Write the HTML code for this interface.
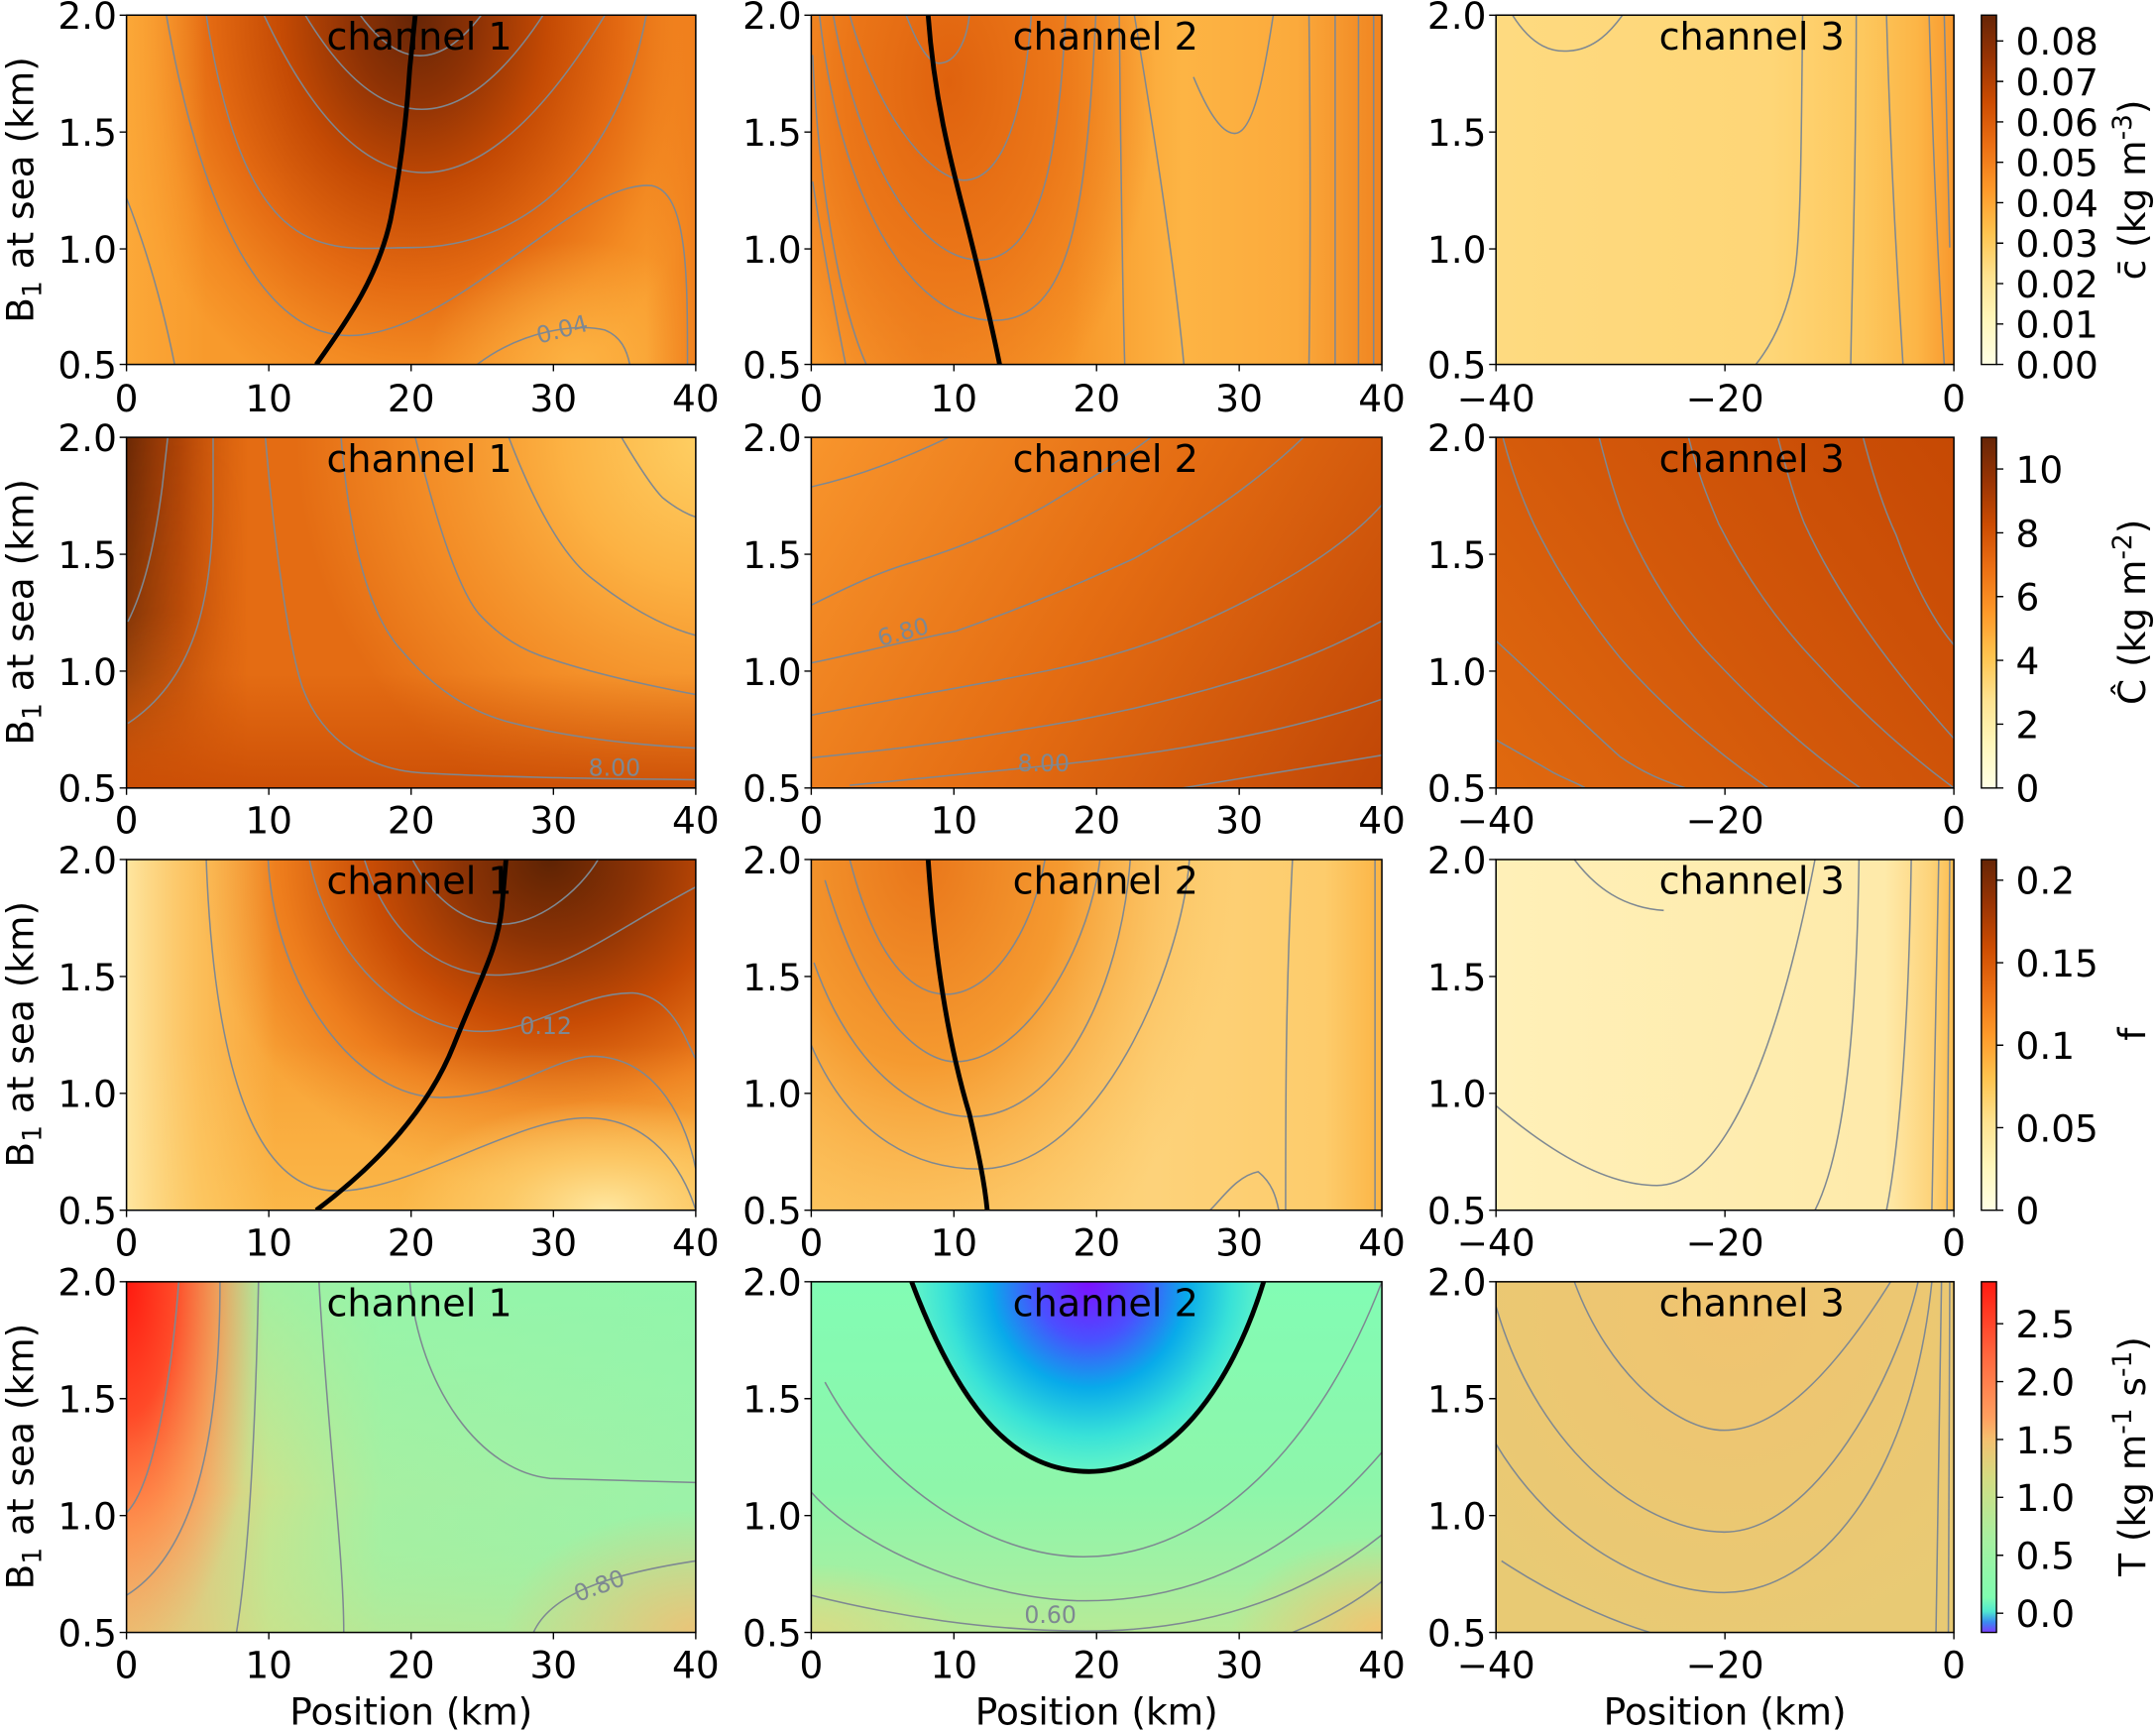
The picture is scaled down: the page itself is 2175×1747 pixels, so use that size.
<!DOCTYPE html>
<html><head><meta charset="utf-8"><style>html,body{margin:0;padding:0;background:#fff}svg{display:block}</style></head>
<body>
<svg xmlns="http://www.w3.org/2000/svg" width="2175" height="1747" viewBox="0 0 1568 1259.4" preserveAspectRatio="none" font-family="'DejaVu Sans','Liberation Sans',sans-serif">
<defs>
<clipPath id="c11"><rect x="92" y="11" width="414" height="254"/></clipPath>
<clipPath id="c12"><rect x="590" y="11" width="415" height="254"/></clipPath>
<clipPath id="c13"><rect x="1088" y="11" width="333" height="254"/></clipPath>
<clipPath id="c21"><rect x="92" y="318" width="414" height="255"/></clipPath>
<clipPath id="c22"><rect x="590" y="318" width="415" height="255"/></clipPath>
<clipPath id="c23"><rect x="1088" y="318" width="333" height="255"/></clipPath>
<clipPath id="c31"><rect x="92" y="625" width="414" height="255"/></clipPath>
<clipPath id="c32"><rect x="590" y="625" width="415" height="255"/></clipPath>
<clipPath id="c33"><rect x="1088" y="625" width="333" height="255"/></clipPath>
<clipPath id="c41"><rect x="92" y="932" width="414" height="255"/></clipPath>
<clipPath id="c42"><rect x="590" y="932" width="415" height="255"/></clipPath>
<clipPath id="c43"><rect x="1088" y="932" width="333" height="255"/></clipPath>

<linearGradient id="ylorbr" x1="0" y1="1" x2="0" y2="0">
<stop offset="0" stop-color="#ffffe5"/><stop offset=".125" stop-color="#fff7bc"/><stop offset=".25" stop-color="#fee391"/><stop offset=".375" stop-color="#fec44f"/><stop offset=".5" stop-color="#fe9929"/><stop offset=".625" stop-color="#ec7014"/><stop offset=".75" stop-color="#cc4c02"/><stop offset=".875" stop-color="#993404"/><stop offset="1" stop-color="#662506"/>
</linearGradient>
<linearGradient id="rainbow" x1="0" y1="1" x2="0" y2="0">
<stop offset="0" stop-color="#7a3cff"/><stop offset=".03" stop-color="#3a8cf0"/><stop offset=".06" stop-color="#50e8d0"/><stop offset=".1" stop-color="#80fcb0"/><stop offset=".27" stop-color="#a8f0a0"/><stop offset=".44" stop-color="#d4dc82"/><stop offset=".55" stop-color="#f4c070"/><stop offset=".61" stop-color="#ffa060"/><stop offset=".78" stop-color="#ff6a40"/><stop offset="1" stop-color="#ff1a10"/>
</linearGradient>

<radialGradient id="g11a" gradientUnits="userSpaceOnUse" cx="0" cy="0" r="1" gradientTransform="translate(302,11) scale(230,300)">
<stop offset="0" stop-color="#662506"/><stop offset=".2" stop-color="#8e3205"/><stop offset=".42" stop-color="#c44a04"/><stop offset=".65" stop-color="#e46a12"/><stop offset=".85" stop-color="#f38a22"/><stop offset="1" stop-color="#f89a2c"/>
</radialGradient>
<radialGradient id="g11b" gradientUnits="userSpaceOnUse" cx="0" cy="0" r="1" gradientTransform="translate(420,265) scale(110,90)">
<stop offset="0" stop-color="#fdb545" stop-opacity=".9"/><stop offset="1" stop-color="#fdb545" stop-opacity="0"/>
</radialGradient>
<linearGradient id="g11c" gradientUnits="userSpaceOnUse" x1="92" y1="0" x2="150" y2="0">
<stop offset="0" stop-color="#fcaa3a" stop-opacity=".9"/><stop offset="1" stop-color="#fcaa3a" stop-opacity="0"/>
</linearGradient>
<linearGradient id="g11d" gradientUnits="userSpaceOnUse" x1="470" y1="0" x2="506" y2="0">
<stop offset="0" stop-color="#ee7a1a" stop-opacity="0"/><stop offset="1" stop-color="#ee7a1a" stop-opacity=".8"/>
</linearGradient>
<radialGradient id="g12a" gradientUnits="userSpaceOnUse" cx="0" cy="0" r="1" gradientTransform="translate(690,60) scale(150,260)">
<stop offset="0" stop-color="#df620e"/><stop offset=".5" stop-color="#eb7618"/><stop offset="1" stop-color="#eb7618" stop-opacity="0"/>
</radialGradient>
<linearGradient id="g12b" gradientUnits="userSpaceOnUse" x1="590" y1="0" x2="1005" y2="0">
<stop offset="0" stop-color="#fa9c30"/><stop offset=".2" stop-color="#f28a25"/><stop offset=".45" stop-color="#f79628"/><stop offset=".65" stop-color="#fdb444"/><stop offset=".85" stop-color="#fbaa3c"/><stop offset="1" stop-color="#f08420"/>
</linearGradient>
<linearGradient id="g13" gradientUnits="userSpaceOnUse" x1="1088" y1="0" x2="1421" y2="0">
<stop offset="0" stop-color="#feda80"/><stop offset=".6" stop-color="#fed677"/><stop offset=".8" stop-color="#fdc85e"/><stop offset=".92" stop-color="#fcb546"/><stop offset="1" stop-color="#f8982d"/>
</linearGradient>
<radialGradient id="g21a" gradientUnits="userSpaceOnUse" cx="0" cy="0" r="1" gradientTransform="translate(515,318) scale(300,300)">
<stop offset="0" stop-color="#fed064"/><stop offset=".35" stop-color="#fcb243"/><stop offset=".7" stop-color="#f6932a" stop-opacity=".8"/><stop offset="1" stop-color="#f6932a" stop-opacity="0"/>
</radialGradient>
<linearGradient id="g21b" gradientUnits="userSpaceOnUse" x1="92" y1="0" x2="180" y2="0">
<stop offset="0" stop-color="#6a2805"/><stop offset=".45" stop-color="#a23a04" stop-opacity=".8"/><stop offset="1" stop-color="#c44a04" stop-opacity="0"/>
</linearGradient>
<linearGradient id="g21bm" gradientUnits="userSpaceOnUse" x1="0" y1="318" x2="0" y2="573">
<stop offset="0" stop-color="#fff"/><stop offset=".5" stop-color="#fff" stop-opacity=".8"/><stop offset="1" stop-color="#fff" stop-opacity=".15"/>
</linearGradient>
<mask id="m21"><rect x="92" y="318" width="414" height="255" fill="url(#g21bm)"/></mask>
<linearGradient id="g21c" gradientUnits="userSpaceOnUse" x1="0" y1="490" x2="0" y2="573">
<stop offset="0" stop-color="#c94b04" stop-opacity="0"/><stop offset="1" stop-color="#c94b04" stop-opacity=".85"/>
</linearGradient>
<linearGradient id="g22" gradientUnits="userSpaceOnUse" x1="590" y1="318" x2="1005" y2="573">
<stop offset="0" stop-color="#f8952c"/><stop offset=".5" stop-color="#e46c12"/><stop offset="1" stop-color="#c04606"/>
</linearGradient>
<linearGradient id="g23" gradientUnits="userSpaceOnUse" x1="1088" y1="573" x2="1421" y2="318">
<stop offset="0" stop-color="#e0690f"/><stop offset=".5" stop-color="#d2570a"/><stop offset="1" stop-color="#c64904"/>
</linearGradient>
<radialGradient id="g31a" gradientUnits="userSpaceOnUse" cx="0" cy="0" r="1" gradientTransform="translate(400,625) scale(260,240)">
<stop offset="0" stop-color="#5e2304"/><stop offset=".25" stop-color="#8c3305"/><stop offset=".5" stop-color="#c84c05"/><stop offset=".75" stop-color="#ed7c1c"/><stop offset="1" stop-color="#f8a236"/>
</radialGradient>
<linearGradient id="g31b" gradientUnits="userSpaceOnUse" x1="92" y1="0" x2="200" y2="0">
<stop offset="0" stop-color="#fee6a0"/><stop offset=".5" stop-color="#fdd070" stop-opacity=".6"/><stop offset="1" stop-color="#fdd070" stop-opacity="0"/>
</linearGradient>
<radialGradient id="g31c" gradientUnits="userSpaceOnUse" cx="0" cy="0" r="1" gradientTransform="translate(440,880) scale(150,80)">
<stop offset="0" stop-color="#fee8a2"/><stop offset=".5" stop-color="#fdd070" stop-opacity=".7"/><stop offset="1" stop-color="#fdd070" stop-opacity="0"/>
</radialGradient>
<linearGradient id="g31d" gradientUnits="userSpaceOnUse" x1="0" y1="760" x2="0" y2="880">
<stop offset="0" stop-color="#fcc050" stop-opacity="0"/><stop offset="1" stop-color="#fcc050" stop-opacity=".7"/>
</linearGradient>
<radialGradient id="g32a" gradientUnits="userSpaceOnUse" cx="0" cy="0" r="1" gradientTransform="translate(670,625) scale(230,330)">
<stop offset="0" stop-color="#e9761a"/><stop offset=".45" stop-color="#f59a30"/><stop offset="1" stop-color="#fcc25a" stop-opacity="0"/>
</radialGradient>
<linearGradient id="g32b" gradientUnits="userSpaceOnUse" x1="590" y1="0" x2="1005" y2="0">
<stop offset="0" stop-color="#fdc864"/><stop offset=".6" stop-color="#fdd27a"/><stop offset=".9" stop-color="#fdcc6c"/><stop offset="1" stop-color="#fbb444"/>
</linearGradient>
<linearGradient id="g33" gradientUnits="userSpaceOnUse" x1="1088" y1="0" x2="1421" y2="0">
<stop offset="0" stop-color="#fff0b8"/><stop offset=".85" stop-color="#feeaaa"/><stop offset=".95" stop-color="#fdd37a"/><stop offset="1" stop-color="#fbbd50"/>
</linearGradient>
<linearGradient id="g41a" gradientUnits="userSpaceOnUse" x1="92" y1="0" x2="506" y2="0">
<stop offset="0" stop-color="#fdb068"/><stop offset=".12" stop-color="#eec078"/><stop offset=".25" stop-color="#c8e48e"/><stop offset=".45" stop-color="#a6f0a2"/><stop offset="1" stop-color="#9cf2a8"/>
</linearGradient>
<radialGradient id="g41b" gradientUnits="userSpaceOnUse" cx="0" cy="0" r="1" gradientTransform="translate(92,932) scale(100,280)">
<stop offset="0" stop-color="#ff1a10"/><stop offset=".35" stop-color="#ff4a28"/><stop offset=".65" stop-color="#ff8a48" stop-opacity=".8"/><stop offset="1" stop-color="#ffa060" stop-opacity="0"/>
</radialGradient>
<radialGradient id="g41c" gradientUnits="userSpaceOnUse" cx="0" cy="0" r="1" gradientTransform="translate(506,1187) scale(140,90)">
<stop offset="0" stop-color="#eac478"/><stop offset="1" stop-color="#eac478" stop-opacity="0"/>
</radialGradient>
<linearGradient id="g41d" gradientUnits="userSpaceOnUse" x1="0" y1="932" x2="0" y2="1187">
<stop offset="0" stop-color="#8af8ae" stop-opacity=".6"/><stop offset=".6" stop-color="#8af8ae" stop-opacity="0"/><stop offset="1" stop-color="#c8e08a" stop-opacity=".4"/>
</linearGradient>
<linearGradient id="g42a" gradientUnits="userSpaceOnUse" x1="0" y1="932" x2="0" y2="1187">
<stop offset="0" stop-color="#82fcb4"/><stop offset=".6" stop-color="#8ef6aa"/><stop offset=".85" stop-color="#a4f0a2"/><stop offset="1" stop-color="#b8ea96"/>
</linearGradient>
<radialGradient id="g42b" gradientUnits="userSpaceOnUse" cx="0" cy="0" r="1" gradientTransform="translate(1005,1187) scale(110,70)">
<stop offset="0" stop-color="#f2c470"/><stop offset="1" stop-color="#f2c470" stop-opacity="0"/>
</radialGradient>
<radialGradient id="g42c" gradientUnits="userSpaceOnUse" cx="0" cy="0" r="1" gradientTransform="translate(590,1187) scale(110,50)">
<stop offset="0" stop-color="#d8dc86"/><stop offset="1" stop-color="#d8dc86" stop-opacity="0"/>
</radialGradient>
<radialGradient id="g42d" gradientUnits="userSpaceOnUse" cx="0" cy="0" r="1" gradientTransform="translate(792,932) scale(130,140)">
<stop offset="0" stop-color="#7c10ff"/><stop offset=".3" stop-color="#4a50ff"/><stop offset=".55" stop-color="#08aaea"/><stop offset=".8" stop-color="#38e2d8"/><stop offset="1" stop-color="#66f6c6"/>
</radialGradient>
<radialGradient id="g43" gradientUnits="userSpaceOnUse" cx="0" cy="0" r="1" gradientTransform="translate(1260,950) scale(250,260)">
<stop offset="0" stop-color="#f0c470"/><stop offset="1" stop-color="#e8ca74"/>
</radialGradient>
</defs>

<g fill="none" stroke="#7e8892" stroke-width="1.1">
<g clip-path="url(#c11)">
<rect x="92" y="11" width="414" height="254" fill="url(#g11a)" stroke="none"/>
<rect x="92" y="11" width="414" height="254" fill="url(#g11b)" stroke="none"/>
<rect x="92" y="11" width="414" height="254" fill="url(#g11c)" stroke="none"/>
<rect x="92" y="11" width="414" height="254" fill="url(#g11d)" stroke="none"/>
<path d="M262,11 Q305,70 350,11"/>
<path d="M222,11 Q305,148 395,11"/>
<path d="M192,11 Q300,240 440,11"/>
<path d="M150,11 C180,200 240,180 300,180 C380,180 450,120 470,11"/>
<path d="M121,11 C140,120 180,244 254,244 C330,244 420,130 474,135 C500,140 500,200 500,265"/>
<path d="M92,144 C110,190 120,230 127,265"/>
<path d="M347,265 C380,240 420,235 440,240 C452,245 456,255 458,265"/>
<path d="M230,265 C255,230 275,200 284,160 C292,120 296,80 298,50 L302,11" stroke="#000" stroke-width="3.5"/>
</g>
<g clip-path="url(#c12)">
<rect x="590" y="11" width="415" height="254" fill="url(#g12b)" stroke="none"/>
<rect x="590" y="11" width="415" height="254" fill="url(#g12a)" stroke="none"/>
<path d="M659,11 C670,40 678,46 683,46 C695,46 703,30 705,11"/>
<path d="M618,11 C640,90 680,131 701,131 C730,131 745,80 750,11"/>
<path d="M606,11 C625,120 670,189 712,189 C755,189 770,120 775,11"/>
<path d="M596,11 C610,140 660,233 723,233 C780,233 790,150 797,11"/>
<path d="M591,40 C595,130 610,220 630,265"/>
<path d="M591,132 C600,190 610,240 615,265"/>
<path d="M814,11 C815,100 816,200 818,265"/>
<path d="M825,11 C840,100 855,200 861,265"/>
<path d="M868,56 C878,80 888,97 898,97 C912,97 920,50 926,11"/>
<path d="M952,11 C953,100 953,200 952,265"/>
<path d="M971,11 L971,265"/><path d="M988,11 L988,265"/><path d="M999,11 L999,265"/>
<path d="M675,11 C680,80 695,130 705,170 C715,210 722,240 727,265" stroke="#000" stroke-width="3.5"/>
</g>
<g clip-path="url(#c13)">
<rect x="1088" y="11" width="333" height="254" fill="url(#g13)" stroke="none"/>
<path d="M1100,11 C1115,35 1130,38 1141,37 C1160,36 1172,22 1180,11"/>
<path d="M1311,11 C1310,100 1310,170 1305,200 C1298,235 1285,255 1277,265"/>
<path d="M1350,11 C1350,120 1347,200 1346,265"/>
<path d="M1372,11 C1375,120 1380,200 1384,265"/>
<path d="M1403,11 C1406,120 1410,200 1414,265"/>
<path d="M1414,11 L1418,180"/>
</g>

<g clip-path="url(#c21)">
<rect x="92" y="318" width="414" height="255" fill="#e46c13" stroke="none"/>
<rect x="92" y="318" width="414" height="255" fill="url(#g21a)" stroke="none"/>
<rect x="92" y="318" width="414" height="255" fill="url(#g21b)" stroke="none" mask="url(#m21)"/>
<rect x="92" y="318" width="414" height="255" fill="url(#g21c)" stroke="none"/>
<path d="M122,318 L118,354 C112,400 104,430 93,452"/>
<path d="M155,318 L155,368 C154,440 140,495 93,526"/>
<path d="M193,318 C200,400 210,470 220,500 C235,540 270,560 307,562 C360,565 420,566 506,567"/>
<path d="M248,318 C255,400 270,450 293,474 C315,500 340,517 370,525 C420,538 470,542 506,544"/>
<path d="M302,318 C320,390 335,430 348,446 C370,470 390,476 403,480 C440,492 480,500 506,505"/>
<path d="M370,318 C390,370 410,405 431,421 C455,440 480,455 506,462"/>
<path d="M452,318 C465,340 475,355 482,362 C492,370 500,374 506,376"/>
</g>
<g clip-path="url(#c22)">
<rect x="590" y="318" width="415" height="255" fill="url(#g22)" stroke="none"/>
<path d="M590,354 C630,345 665,330 690,318"/>
<path d="M590,440 C620,425 640,416 660,410 C700,398 730,385 760,368 C790,350 815,335 837,318"/>
<path d="M590,482 C620,476 650,468 695,459 C750,440 790,422 825,406 C880,375 920,345 948,318"/>
<path d="M590,520 C640,510 700,500 760,488 C820,476 860,460 900,440 C950,415 985,390 1006,366"/>
<path d="M590,551 C650,545 690,540 740,531 C800,522 850,510 900,495 C950,480 980,465 1006,451"/>
<path d="M618,571 C660,567 700,563 760,557 C830,550 900,538 950,525 C980,517 995,512 1006,508"/>
<path d="M860,573 C900,566 950,558 1006,549"/>
</g>
<g clip-path="url(#c23)">
<rect x="1088" y="318" width="333" height="255" fill="url(#g23)" stroke="none"/>
<path d="M1088,466 C1120,495 1150,525 1178,550 C1195,562 1210,568 1226,573"/>
<path d="M1088,538 C1100,545 1115,553 1130,562 C1140,567 1148,570 1153,573"/>
<path d="M1093,318 C1100,345 1108,365 1116,382 C1135,420 1155,450 1178,478 C1210,515 1250,548 1286,573"/>
<path d="M1163,318 C1170,345 1175,362 1182,380 C1200,420 1222,455 1250,483 C1285,520 1320,550 1353,573"/>
<path d="M1228,318 C1235,345 1242,362 1250,381 C1270,420 1295,455 1322,483 C1355,520 1390,550 1421,573"/>
<path d="M1293,318 C1300,345 1305,362 1312,380 C1335,430 1370,480 1421,537"/>
<path d="M1355,318 C1362,345 1370,370 1379,389 C1390,420 1405,450 1421,469"/>
</g>

<g clip-path="url(#c31)">
<rect x="92" y="625" width="414" height="255" fill="url(#g31a)" stroke="none"/>
<rect x="92" y="625" width="414" height="255" fill="url(#g31d)" stroke="none"/>
<rect x="92" y="625" width="414" height="255" fill="url(#g31b)" stroke="none"/>
<rect x="92" y="625" width="414" height="255" fill="url(#g31c)" stroke="none"/>
<path d="M300,625 C320,662 345,672 365,672 C390,672 420,650 435,625"/>
<path d="M265,625 C285,690 330,709 360,709 C410,709 440,680 506,645"/>
<path d="M225,625 C240,700 300,750 350,750 C390,750 420,722 460,722 C490,724 500,760 506,770"/>
<path d="M195,625 C200,720 260,798 320,798 C370,798 400,770 430,768 C480,768 500,820 506,850"/>
<path d="M150,625 C155,760 180,866 245,866 C300,866 380,810 430,813 C480,815 500,860 506,880"/>
<path d="M230,880 C270,850 310,810 330,760 C350,710 362,690 365,660 L368,625" stroke="#000" stroke-width="3.5"/>
</g>
<g clip-path="url(#c32)">
<rect x="590" y="625" width="415" height="255" fill="url(#g32b)" stroke="none"/>
<rect x="590" y="625" width="415" height="255" fill="url(#g32a)" stroke="none"/>
<path d="M618,625 C640,710 670,723 688,723 C720,723 750,680 760,625"/>
<path d="M600,640 C630,740 670,772 695,772 C740,772 790,700 800,625"/>
<path d="M592,700 C620,780 670,812 706,812 C770,812 815,720 822,625"/>
<path d="M590,760 C620,830 670,850 712,850 C800,850 860,700 865,625"/>
<path d="M940,625 C935,720 935,800 935,880"/>
<path d="M880,880 C890,870 900,855 915,852 C925,860 928,870 930,880"/>
<path d="M1000,625 L1000,880"/>
<path d="M675,625 C680,700 690,760 705,810 C712,840 716,860 718,880" stroke="#000" stroke-width="3.5"/>
</g>
<g clip-path="url(#c33)">
<rect x="1088" y="625" width="333" height="255" fill="url(#g33)" stroke="none"/>
<path d="M1088,804 C1130,840 1170,862 1205,862 C1250,862 1290,780 1320,625"/>
<path d="M1145,625 C1160,645 1180,660 1210,662"/>
<path d="M1352,625 C1350,760 1340,840 1320,880"/>
<path d="M1390,625 C1388,760 1380,840 1372,880"/>
<path d="M1410,625 L1405,880"/><path d="M1418,625 L1416,880"/>
</g>

<g clip-path="url(#c41)">
<rect x="92" y="932" width="414" height="255" fill="url(#g41a)" stroke="none"/>
<rect x="92" y="932" width="414" height="255" fill="url(#g41d)" stroke="none"/>
<rect x="92" y="932" width="414" height="255" fill="url(#g41b)" stroke="none"/>
<rect x="92" y="932" width="414" height="255" fill="url(#g41c)" stroke="none"/>
<path d="M130,932 C125,1000 112,1080 92,1100"/>
<path d="M160,932 C160,1050 140,1130 92,1160"/>
<path d="M188,932 C185,1080 178,1150 172,1187"/>
<path d="M232,932 C238,1040 250,1130 250,1187"/>
<path d="M298,932 C305,1010 350,1070 400,1075 L506,1078"/>
<path d="M388,1187 C400,1160 440,1145 506,1135"/>
</g>
<g clip-path="url(#c42)">
<rect x="590" y="932" width="415" height="255" fill="url(#g42a)" stroke="none"/>
<rect x="590" y="932" width="415" height="255" fill="url(#g42b)" stroke="none"/>
<rect x="590" y="932" width="415" height="255" fill="url(#g42c)" stroke="none"/>
<path d="M600,1005 C640,1080 720,1132 788,1132 C880,1132 960,1050 1005,932"/>
<path d="M590,1085 C630,1130 720,1164 790,1164 C880,1164 950,1120 1005,1056"/>
<path d="M590,1160 C650,1175 720,1186 790,1186 C880,1186 950,1160 1005,1116"/>
<path d="M940,1187 C970,1175 990,1162 1005,1150"/>
<path d="M663,932 C700,1030 740,1070 792,1070 C850,1070 895,1010 919,932 Z" fill="url(#g42d)" stroke="none"/>
<path d="M663,932 C700,1030 740,1070 792,1070 C850,1070 895,1010 919,932" stroke="#000" stroke-width="3.5"/>
</g>
<g clip-path="url(#c43)">
<rect x="1088" y="932" width="333" height="255" fill="url(#g43)" stroke="none"/>
<path d="M1145,932 C1170,1000 1220,1040 1254,1040 C1300,1040 1345,980 1375,932"/>
<path d="M1088,950 C1120,1060 1200,1114 1254,1114 C1320,1114 1380,1000 1395,932"/>
<path d="M1088,1050 C1130,1120 1200,1158 1254,1158 C1320,1158 1390,1080 1405,932"/>
<path d="M1092,1135 C1130,1160 1170,1178 1200,1187"/>
<path d="M1412,932 L1408,1187"/><path d="M1418,932 L1417,1187"/>
</g>
</g>

<g fill="#7e8892" font-size="17">
<text x="392" y="250" transform="rotate(-15 392 250)">0.04</text>
<text x="745" y="1180">0.60</text>
<text x="740" y="561">8.00</text>
<text x="428" y="564">8.00</text>
<text x="640" y="470" transform="rotate(-15 640 470)">6.80</text>
<text x="378" y="752">0.12</text>
<text x="420" y="1165" transform="rotate(-20 420 1165)">0.80</text>
</g>

<g fill="none" stroke="#000" stroke-width="1.1">
<rect x="92" y="11" width="414" height="254"/><rect x="590" y="11" width="415" height="254"/><rect x="1088" y="11" width="333" height="254"/>
<rect x="92" y="318" width="414" height="255"/><rect x="590" y="318" width="415" height="255"/><rect x="1088" y="318" width="333" height="255"/>
<rect x="92" y="625" width="414" height="255"/><rect x="590" y="625" width="415" height="255"/><rect x="1088" y="625" width="333" height="255"/>
<rect x="92" y="932" width="414" height="255"/><rect x="590" y="932" width="415" height="255"/><rect x="1088" y="932" width="333" height="255"/>
</g>

<rect x="1441" y="11" width="11" height="254" fill="url(#ylorbr)" stroke="#000" stroke-width="1"/>
<rect x="1441" y="318" width="11" height="255" fill="url(#ylorbr)" stroke="#000" stroke-width="1"/>
<rect x="1441" y="625" width="11" height="255" fill="url(#ylorbr)" stroke="#000" stroke-width="1"/>
<rect x="1441" y="932" width="11" height="255" fill="url(#rainbow)" stroke="#000" stroke-width="1"/>

<g stroke="#000" stroke-width="1">
<path d="M92,265v5M195.5,265v5M299,265v5M402.5,265v5M506,265v5 M590,265v5M693.75,265v5M797.5,265v5M901.25,265v5M1005,265v5 M1088,265v5M1254.5,265v5M1421,265v5"/>
<path d="M92,573v5M195.5,573v5M299,573v5M402.5,573v5M506,573v5 M590,573v5M693.75,573v5M797.5,573v5M901.25,573v5M1005,573v5 M1088,573v5M1254.5,573v5M1421,573v5"/>
<path d="M92,880v5M195.5,880v5M299,880v5M402.5,880v5M506,880v5 M590,880v5M693.75,880v5M797.5,880v5M901.25,880v5M1005,880v5 M1088,880v5M1254.5,880v5M1421,880v5"/>
<path d="M92,1187v5M195.5,1187v5M299,1187v5M402.5,1187v5M506,1187v5 M590,1187v5M693.75,1187v5M797.5,1187v5M901.25,1187v5M1005,1187v5 M1088,1187v5M1254.5,1187v5M1421,1187v5"/>
<path d="M87,11h5M87,96h5M87,181h5M87,265h5 M585,11h5M585,96h5M585,181h5M585,265h5 M1083,11h5M1083,96h5M1083,181h5M1083,265h5"/>
<path d="M87,318h5M87,403h5M87,488h5M87,573h5 M585,318h5M585,403h5M585,488h5M585,573h5 M1083,318h5M1083,403h5M1083,488h5M1083,573h5"/>
<path d="M87,625h5M87,710h5M87,795h5M87,880h5 M585,625h5M585,710h5M585,795h5M585,880h5 M1083,625h5M1083,710h5M1083,795h5M1083,880h5"/>
<path d="M87,932h5M87,1017h5M87,1102h5M87,1187h5 M585,932h5M585,1017h5M585,1102h5M585,1187h5 M1083,932h5M1083,1017h5M1083,1102h5M1083,1187h5"/>
<path d="M1452,265h5M1452,235.6h5M1452,206.2h5M1452,176.8h5M1452,147.4h5M1452,118h5M1452,88.6h5M1452,59.2h5M1452,29.8h5"/>
<path d="M1452,573h5M1452,526.6h5M1452,480.2h5M1452,433.8h5M1452,387.4h5M1452,341h5"/>
<path d="M1452,880h5M1452,820h5M1452,760h5M1452,700h5M1452,640h5"/>
<path d="M1452,1173h5M1452,1130.9h5M1452,1088.8h5M1452,1046.7h5M1452,1004.6h5M1452,962.5h5"/>
</g>

<g font-size="27" fill="#000">
<g text-anchor="end">
<text x="85" y="21">2.0</text><text x="85" y="106">1.5</text><text x="85" y="191">1.0</text><text x="85" y="275">0.5</text>
<text x="583" y="21">2.0</text><text x="583" y="106">1.5</text><text x="583" y="191">1.0</text><text x="583" y="275">0.5</text>
<text x="1081" y="21">2.0</text><text x="1081" y="106">1.5</text><text x="1081" y="191">1.0</text><text x="1081" y="275">0.5</text>
<text x="85" y="328">2.0</text><text x="85" y="413">1.5</text><text x="85" y="498">1.0</text><text x="85" y="583">0.5</text>
<text x="583" y="328">2.0</text><text x="583" y="413">1.5</text><text x="583" y="498">1.0</text><text x="583" y="583">0.5</text>
<text x="1081" y="328">2.0</text><text x="1081" y="413">1.5</text><text x="1081" y="498">1.0</text><text x="1081" y="583">0.5</text>
<text x="85" y="635">2.0</text><text x="85" y="720">1.5</text><text x="85" y="805">1.0</text><text x="85" y="890">0.5</text>
<text x="583" y="635">2.0</text><text x="583" y="720">1.5</text><text x="583" y="805">1.0</text><text x="583" y="890">0.5</text>
<text x="1081" y="635">2.0</text><text x="1081" y="720">1.5</text><text x="1081" y="805">1.0</text><text x="1081" y="890">0.5</text>
<text x="85" y="942">2.0</text><text x="85" y="1027">1.5</text><text x="85" y="1112">1.0</text><text x="85" y="1197">0.5</text>
<text x="583" y="942">2.0</text><text x="583" y="1027">1.5</text><text x="583" y="1112">1.0</text><text x="583" y="1197">0.5</text>
<text x="1081" y="942">2.0</text><text x="1081" y="1027">1.5</text><text x="1081" y="1112">1.0</text><text x="1081" y="1197">0.5</text>
</g>
<g text-anchor="middle">
<text x="92" y="299">0</text><text x="195.5" y="299">10</text><text x="299" y="299">20</text><text x="402.5" y="299">30</text><text x="506" y="299">40</text>
<text x="590" y="299">0</text><text x="693.75" y="299">10</text><text x="797.5" y="299">20</text><text x="901.25" y="299">30</text><text x="1005" y="299">40</text>
<text x="1088" y="299">−40</text><text x="1254.5" y="299">−20</text><text x="1421" y="299">0</text>
<text x="92" y="606">0</text><text x="195.5" y="606">10</text><text x="299" y="606">20</text><text x="402.5" y="606">30</text><text x="506" y="606">40</text>
<text x="590" y="606">0</text><text x="693.75" y="606">10</text><text x="797.5" y="606">20</text><text x="901.25" y="606">30</text><text x="1005" y="606">40</text>
<text x="1088" y="606">−40</text><text x="1254.5" y="606">−20</text><text x="1421" y="606">0</text>
<text x="92" y="913">0</text><text x="195.5" y="913">10</text><text x="299" y="913">20</text><text x="402.5" y="913">30</text><text x="506" y="913">40</text>
<text x="590" y="913">0</text><text x="693.75" y="913">10</text><text x="797.5" y="913">20</text><text x="901.25" y="913">30</text><text x="1005" y="913">40</text>
<text x="1088" y="913">−40</text><text x="1254.5" y="913">−20</text><text x="1421" y="913">0</text>
<text x="92" y="1220">0</text><text x="195.5" y="1220">10</text><text x="299" y="1220">20</text><text x="402.5" y="1220">30</text><text x="506" y="1220">40</text>
<text x="590" y="1220">0</text><text x="693.75" y="1220">10</text><text x="797.5" y="1220">20</text><text x="901.25" y="1220">30</text><text x="1005" y="1220">40</text>
<text x="1088" y="1220">−40</text><text x="1254.5" y="1220">−20</text><text x="1421" y="1220">0</text>
<text x="299" y="1254">Position (km)</text><text x="797.5" y="1254">Position (km)</text><text x="1254.5" y="1254">Position (km)</text>
</g>
<g text-anchor="middle" font-size="27.5">
<text x="305" y="36">channel 1</text><text x="804" y="36">channel 2</text><text x="1274" y="36">channel 3</text>
<text x="305" y="343">channel 1</text><text x="804" y="343">channel 2</text><text x="1274" y="343">channel 3</text>
<text x="305" y="650">channel 1</text><text x="804" y="650">channel 2</text><text x="1274" y="650">channel 3</text>
<text x="305" y="957">channel 1</text><text x="804" y="957">channel 2</text><text x="1274" y="957">channel 3</text>
</g>
<g text-anchor="middle">
<text transform="translate(24,138) rotate(-90)">B<tspan font-size="19" dy="6">1</tspan><tspan dy="-6"> at sea (km)</tspan></text>
<text transform="translate(24,445) rotate(-90)">B<tspan font-size="19" dy="6">1</tspan><tspan dy="-6"> at sea (km)</tspan></text>
<text transform="translate(24,752) rotate(-90)">B<tspan font-size="19" dy="6">1</tspan><tspan dy="-6"> at sea (km)</tspan></text>
<text transform="translate(24,1059) rotate(-90)">B<tspan font-size="19" dy="6">1</tspan><tspan dy="-6"> at sea (km)</tspan></text>
</g>
<g>
<text x="1466" y="275">0.00</text><text x="1466" y="245.6">0.01</text><text x="1466" y="216.2">0.02</text><text x="1466" y="186.8">0.03</text><text x="1466" y="157.4">0.04</text><text x="1466" y="128">0.05</text><text x="1466" y="98.6">0.06</text><text x="1466" y="69.2">0.07</text><text x="1466" y="39.8">0.08</text>
<text x="1466" y="583">0</text><text x="1466" y="536.6">2</text><text x="1466" y="490.2">4</text><text x="1466" y="443.8">6</text><text x="1466" y="397.4">8</text><text x="1466" y="351">10</text>
<text x="1466" y="890">0</text><text x="1466" y="830">0.05</text><text x="1466" y="770">0.1</text><text x="1466" y="710">0.15</text><text x="1466" y="650">0.2</text>
<text x="1466" y="1183">0.0</text><text x="1466" y="1140.9">0.5</text><text x="1466" y="1098.8">1.0</text><text x="1466" y="1056.7">1.5</text><text x="1466" y="1014.6">2.0</text><text x="1466" y="972.5">2.5</text>
</g>
<g text-anchor="middle">
<text transform="translate(1560,138) rotate(-90)">c̄ (kg m<tspan font-size="19" dy="-10">-3</tspan><tspan dy="10">)</tspan></text>
<text transform="translate(1560,445) rotate(-90)">Ĉ (kg m<tspan font-size="19" dy="-10">-2</tspan><tspan dy="10">)</tspan></text>
<text transform="translate(1560,752) rotate(-90)">f</text>
<text transform="translate(1560,1059) rotate(-90)">T (kg m<tspan font-size="19" dy="-10">-1</tspan><tspan dy="10"> s</tspan><tspan font-size="19" dy="-10">-1</tspan><tspan dy="10">)</tspan></text>
</g>
</g>
</svg>
</body></html>
